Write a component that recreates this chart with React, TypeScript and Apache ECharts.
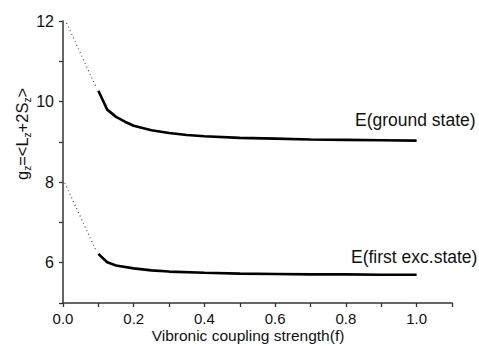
import React, { useEffect, useRef } from "react";
import * as echarts from "echarts";

// Ground state (solid) and its dotted extrapolation to f = 0
const groundX = [0.1, 0.125, 0.15, 0.175, 0.2, 0.25, 0.3, 0.35, 0.4, 0.5, 0.6, 0.7, 0.8, 0.9, 1.0];
const groundY = [10.27, 9.8, 9.62, 9.5, 9.4, 9.29, 9.22, 9.17, 9.14, 9.1, 9.08, 9.06, 9.05, 9.04, 9.03];
const groundDotX = [0.01, 0.095];
const groundDotY = [11.95, 10.33];

// First excited state (solid) and its dotted extrapolation
const excX = [0.1, 0.125, 0.15, 0.2, 0.25, 0.3, 0.4, 0.5, 0.6, 0.7, 0.8, 0.9, 1.0];
const excY = [6.22, 6.01, 5.93, 5.86, 5.81, 5.78, 5.75, 5.73, 5.72, 5.71, 5.71, 5.7, 5.7];
const excDotX = [0.005, 0.093];
const excDotY = [7.98, 6.31];

const xLabelValues = ["0.0", "0.2", "0.4", "0.6", "0.8", "1.0"];
const yLabelValues = ["6", "8", "10", "12"];

const curveLabels = ["E(ground state)", "E(first exc.state)"];
const xName = "Vibronic coupling strength(f)";

const zip = (xs: number[], ys: number[]) => xs.map((x, i) => [x, ys[i]]);

const FONT = "'Liberation Sans', Arial, sans-serif";

export default function App() {
  const ref = useRef<HTMLDivElement>(null);
  useEffect(() => {
    document.body.style.margin = "0";
    const chart = echarts.init(ref.current!, null, { renderer: "svg" });
    const axisColor = "#333";
    chart.setOption({
      animation: false,
      backgroundColor: "#fff",
      textStyle: { fontFamily: FONT },
      grid: { left: 63, right: 27, top: 21, bottom: 43, containLabel: false, outerBoundsMode: "none" },
      xAxis: {
        type: "value",
        min: 0,
        max: 1.1,
        interval: 0.1,
        splitLine: { show: false },
        axisLine: { onZero: false, lineStyle: { color: axisColor, width: 1.5 } },
        axisTick: { inside: false, length: 4, lineStyle: { color: axisColor, width: 1.3 } },
        axisLabel: {
          color: "#111",
          fontSize: 15,
          lineHeight: 15,
          fontFamily: FONT,
          margin: 8,
          formatter: (v: number) => {
            const t = Math.round(v * 10);
            if (t % 2 !== 0) return "";
            const s = (t / 10).toFixed(1);
            return xLabelValues.includes(s) ? s : "";
          },
        },
        name: xName,
        nameLocation: "middle",
        nameGap: 24.5,
        nameMoveOverlap: false,
        nameTextStyle: { color: "#111", fontSize: 15.5, lineHeight: 16, fontFamily: FONT, padding: [0, 19, 0, 0] },
      },
      yAxis: {
        type: "value",
        min: 5,
        max: 12,
        interval: 1,
        splitLine: { show: false },
        axisLine: { onZero: false, lineStyle: { color: axisColor, width: 1.5 } },
        axisTick: { inside: false, length: 4, lineStyle: { color: axisColor, width: 1.3 } },
        axisLabel: {
          color: "#111",
          fontSize: 16,
          fontFamily: FONT,
          margin: 9,
          formatter: (v: number) => {
            const s = String(Math.round(v));
            return yLabelValues.includes(s) ? s : "";
          },
        },
      },
      graphic: [
        {
          type: "text",
          x: 22,
          y: 134,
          rotation: Math.PI / 2,
          style: {
            text: "g{s|z}=<L{s|z}+2S{s|z}>",
            fill: "#111",
            fontSize: 16.5,
            fontFamily: FONT,
            align: "center",
            verticalAlign: "middle",
            lineHeight: 20,
            rich: {
              s: { fontSize: 10, lineHeight: 10, verticalAlign: "bottom", fill: "#111", fontFamily: FONT },
            },
          },
        },
        {
          type: "text",
          x: 355,
          y: 120,
          style: {
            text: curveLabels[0],
            fill: "#111",
            fontSize: 17.5,
            fontFamily: FONT,
            align: "left",
            verticalAlign: "middle",
          },
        },
        {
          type: "text",
          x: 351,
          y: 257,
          style: {
            text: curveLabels[1],
            fill: "#111",
            fontSize: 17.5,
            fontFamily: FONT,
            align: "left",
            verticalAlign: "middle",
          },
        },
      ],
      series: [
        {
          type: "line",
          data: zip(groundX, groundY),
          symbol: "none",
          smooth: false,
          lineStyle: { color: "#000", width: 2.6 },
        },
        {
          type: "line",
          data: zip(groundDotX, groundDotY),
          symbol: "none",
          lineStyle: { color: "#555", width: 1.2, type: [1, 3] },
        },
        {
          type: "line",
          data: zip(excX, excY),
          symbol: "none",
          smooth: false,
          lineStyle: { color: "#000", width: 2.6 },
        },
        {
          type: "line",
          data: zip(excDotX, excDotY),
          symbol: "none",
          lineStyle: { color: "#555", width: 1.2, type: [1, 3] },
        },
      ],
    });
    return () => chart.dispose();
  }, []);
  return <div ref={ref} style={{ width: 479, height: 346 }} />;
}
